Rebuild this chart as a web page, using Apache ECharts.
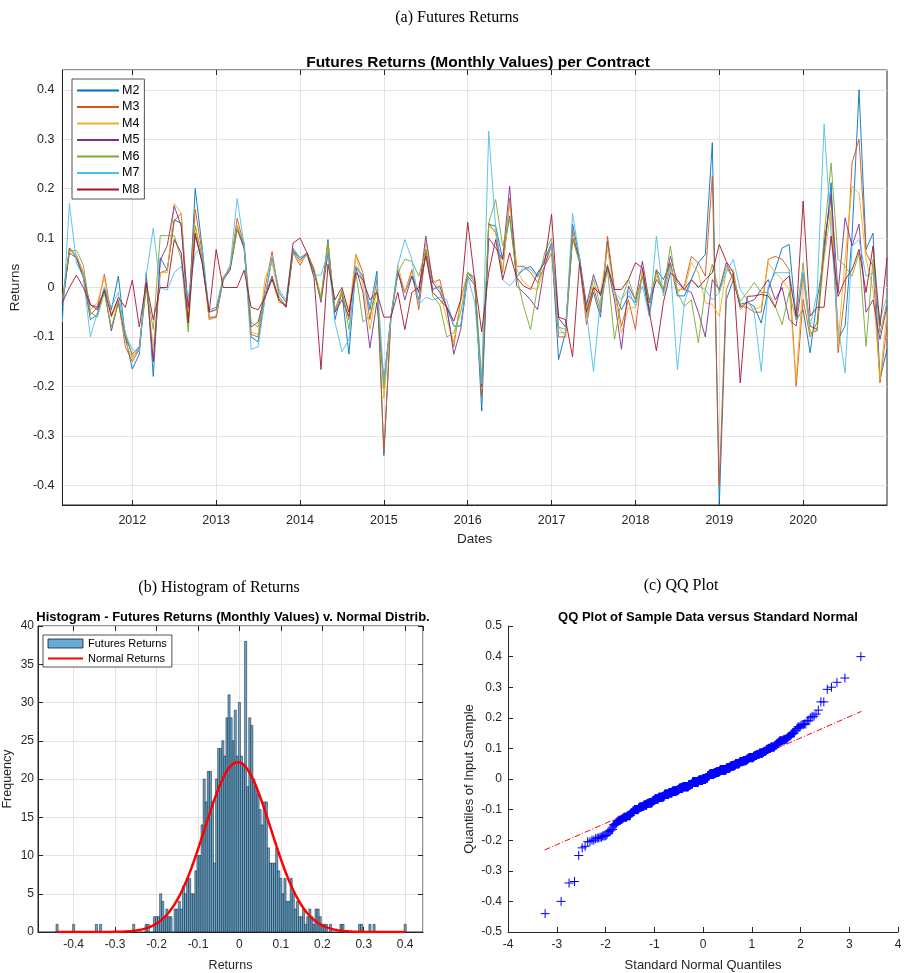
<!DOCTYPE html>
<html>
<head>
<meta charset="utf-8">
<script src="https://cdn.jsdelivr.net/npm/echarts@6/dist/echarts.min.js"></script>
<style>
html, body { margin: 0; padding: 0; background: #fff; }
#chart { width: 905px; height: 973px; }
</style>
</head>
<body>
<div id="chart"></div>
<script>
// monthly returns, month-end Feb 2011 .. Dec 2020 (119 months)
var startYear = 2011, startMonth = 2, monthCount = 119;

var m2 = [
	-0.04, 0.08, 0.06, 0.02, -0.065, -0.055, 0.0, -0.045, 0.023, -0.10,
	-0.165, -0.135, 0.03, -0.18, 0.06, 0.035, 0.137, 0.13, -0.072, 0.2,
	0.08, -0.06, -0.06, 0.015, 0.04, 0.125, 0.08, -0.1, -0.11, -0.02,
	0.06, -0.01, -0.03, 0.077, 0.06, 0.065, 0.03, -0.025, 0.097, -0.065,
	-0.01, -0.135, 0.043, 0.023, -0.045, 0.033, -0.34, -0.06, 0.03, -0.01,
	0.023, -0.025, 0.07, -0.004, 0.003, -0.04, -0.078, -0.078, 0.03, 0.02,
	-0.25, 0.128, 0.124, 0.057, 0.145, 0.023, 0.036, 0.043, 0.023, 0.057,
	0.09, -0.146, -0.09, 0.128, 0.06, -0.06, -0.01, -0.06, 0.094, -0.01,
	-0.045, -0.017, -0.03, 0.023, -0.058, 0.036, 0.016, 0.05, -0.017, -0.017,
	0.016, 0.05, 0.067, 0.293, -0.44, -0.025, 0.016, -0.034, -0.03, -0.038,
	-0.072, -0.004, 0.036, 0.08, 0.087, -0.065, -0.045, -0.132, -0.025, 0.064,
	0.212, -0.105, -0.078, 0.104, 0.40, 0.077, 0.11, -0.186, -0.125
];
var m3 = [
	-0.03, 0.08, 0.065, 0.03, -0.055, -0.04, 0.027, -0.055, -0.025, -0.12,
	-0.15, -0.125, 0.02, -0.15, 0.03, 0.035, 0.135, 0.15, -0.06, 0.158,
	0.07, -0.065, -0.06, 0.02, 0.04, 0.14, 0.085, -0.095, -0.1, 0.0,
	0.073, -0.018, -0.038, 0.07, 0.045, 0.07, 0.035, -0.02, 0.085, -0.05,
	-0.01, -0.065, 0.067, 0.03, -0.065, 0.016, -0.335, -0.065, 0.03, -0.01,
	0.036, -0.045, 0.077, 0.01, 0.016, -0.045, -0.12, -0.025, 0.03, 0.01,
	-0.22, 0.13, 0.11, 0.03, 0.18, 0.043, 0.043, 0.03, 0.01, 0.043,
	0.07, -0.1, -0.1, 0.115, 0.05, -0.075, 0.0, -0.05, 0.104, -0.004,
	-0.078, -0.025, -0.085, 0.036, -0.045, 0.036, -0.01, 0.05, -0.01, 0.003,
	0.063, 0.05, 0.023, 0.225, -0.40, -0.004, 0.03, -0.038, -0.04, -0.05,
	-0.05, 0.057, 0.063, 0.057, 0.036, -0.2, -0.024, -0.1, -0.07, 0.09,
	0.178, -0.132, -0.01, 0.252, 0.30, 0.07, 0.043, -0.193, -0.078
];
var m4 = [
	-0.03, 0.075, 0.065, 0.025, -0.045, -0.03, 0.02, -0.06, -0.03, -0.11,
	-0.145, -0.12, 0.0, -0.12, 0.03, 0.03, 0.17, 0.15, -0.05, 0.125,
	0.06, -0.065, -0.055, 0.018, 0.045, 0.125, 0.09, -0.09, -0.095, 0.02,
	0.05, -0.018, -0.04, 0.07, 0.05, 0.07, 0.04, -0.02, 0.085, -0.045,
	-0.01, -0.05, 0.067, 0.003, -0.085, -0.004, -0.225, -0.06, 0.045, -0.01,
	0.03, -0.01, 0.09, 0.016, -0.004, -0.065, -0.11, -0.025, 0.03, 0.01,
	-0.205, 0.124, 0.115, 0.035, 0.17, 0.037, 0.01, 0.0, -0.004, 0.043,
	0.084, -0.08, -0.1, 0.1, 0.05, -0.06, 0.003, -0.01, 0.077, -0.01,
	-0.092, -0.041, -0.041, 0.03, -0.025, 0.023, -0.004, 0.043, -0.004, -0.004,
	0.05, 0.03, -0.031, -0.034, -0.058, 0.036, 0.036, -0.045, -0.03, -0.045,
	-0.038, 0.05, 0.03, 0.016, -0.004, -0.186, 0.016, -0.092, -0.085, 0.057,
	0.158, -0.112, 0.057, 0.205, 0.19, 0.057, -0.004, -0.186, -0.05
];
var m5 = [
	-0.03, 0.07, 0.06, 0.02, -0.035, -0.04, -0.005, -0.088, -0.03, -0.10,
	-0.135, -0.12, 0.01, -0.15, 0.055, 0.085, 0.165, 0.124, -0.04, 0.105,
	0.05, -0.05, -0.045, 0.015, 0.035, 0.117, 0.08, -0.08, -0.07, -0.015,
	0.023, -0.025, -0.04, 0.073, 0.055, 0.07, 0.035, -0.03, 0.07, -0.05,
	-0.025, -0.058, 0.04, -0.01, -0.122, -0.03, -0.19, -0.06, 0.035, -0.025,
	0.023, -0.01, 0.104, 0.01, -0.01, -0.04, -0.135, -0.085, 0.023, 0.005,
	-0.2, 0.1, 0.08, 0.057, 0.205, 0.003, -0.01, -0.025, -0.045, 0.043,
	0.09, -0.062, -0.08, 0.1, 0.06, -0.035, 0.026, -0.017, 0.043, -0.025,
	-0.125, 0.003, -0.025, 0.053, -0.031, 0.016, -0.004, 0.063, 0.01, -0.004,
	-0.01, -0.05, -0.1, 0.016, -0.004, 0.05, 0.016, -0.04, -0.03, -0.025,
	-0.004, 0.016, -0.025, 0.0, -0.065, -0.078, 0.03, -0.078, -0.085, 0.084,
	0.19, -0.01, 0.141, 0.084, 0.128, -0.05, -0.025, -0.105, -0.038
];
var m6 = [
	-0.02, 0.075, 0.075, 0.045, -0.05, -0.06, -0.01, -0.08, -0.03, -0.09,
	-0.14, -0.125, 0.0, -0.085, 0.105, 0.105, 0.105, 0.057, -0.09, 0.125,
	0.06, -0.045, -0.04, 0.02, 0.04, 0.117, 0.09, -0.07, -0.08, -0.02,
	0.017, -0.03, -0.035, 0.073, 0.06, 0.07, 0.035, -0.025, 0.094, -0.045,
	-0.005, -0.085, 0.03, -0.07, -0.058, -0.004, -0.205, -0.06, 0.03, 0.057,
	0.053, 0.023, 0.077, -0.018, -0.035, -0.1, -0.092, -0.05, 0.03, 0.015,
	-0.185, 0.13, 0.178, 0.084, 0.14, 0.023, -0.038, -0.085, 0.003, 0.07,
	0.1, -0.08, -0.085, 0.1, 0.05, -0.045, 0.016, -0.038, 0.036, -0.105,
	-0.025, 0.016, -0.025, 0.023, -0.025, 0.03, -0.01, 0.084, -0.01, -0.038,
	-0.025, -0.112, -0.004, 0.047, -0.01, 0.043, 0.016, -0.028, -0.01, 0.01,
	-0.01, -0.01, -0.038, -0.075, -0.01, -0.065, 0.05, -0.092, -0.088, 0.104,
	0.252, 0.057, 0.043, 0.023, 0.07, -0.119, 0.057, -0.092, -0.03
];
var m7 = [
	-0.07, 0.17, 0.05, 0.02, -0.10, -0.05, 0.0, -0.04, -0.01, -0.095,
	-0.125, -0.13, 0.025, 0.12, 0.0, -0.005, 0.03, 0.043, -0.02, 0.07,
	0.08, -0.05, -0.04, 0.012, 0.045, 0.18, 0.085, -0.125, -0.12, -0.02,
	0.06, -0.004, -0.025, 0.08, 0.06, 0.065, 0.025, 0.025, 0.07, -0.07,
	-0.13, -0.105, 0.043, 0.016, -0.038, 0.023, -0.19, -0.065, 0.045, 0.097,
	0.057, -0.034, -0.02, -0.025, -0.02, -0.025, -0.078, -0.078, 0.023, -0.03,
	-0.195, 0.316, 0.12, 0.016, 0.003, 0.02, 0.043, 0.036, 0.02, 0.057,
	0.087, -0.092, -0.09, 0.15, 0.06, -0.05, -0.17, -0.025, 0.047, -0.01,
	-0.025, -0.004, -0.038, 0.003, -0.058, 0.104, -0.017, 0.043, -0.166, -0.031,
	0.016, 0.003, -0.004, -0.025, -0.01, 0.03, 0.057, -0.004, -0.025, -0.05,
	-0.17, 0.003, 0.03, 0.03, 0.03, -0.05, 0.03, -0.078, -0.01, 0.33,
	0.11, -0.078, -0.173, 0.084, 0.097, 0.023, 0.03, -0.065, -0.018
];
var m8 = [
	-0.03, 0.0, 0.025, 0.0, -0.035, -0.045, -0.005, -0.058, -0.02, -0.04,
	0.015, -0.08, 0.01, -0.065, 0.0, 0.0, 0.097, 0.07, -0.072, 0.11,
	0.05, -0.05, 0.077, 0.0, 0.0, 0.0, 0.035, -0.04, -0.045, -0.02,
	0.017, -0.025, -0.038, 0.09, 0.1, 0.07, 0.02, -0.166, 0.047, -0.025,
	0.0, -0.05, 0.03, 0.016, -0.025, -0.01, -0.06, -0.06, -0.01, -0.085,
	-0.01, 0.0, 0.063, -0.01, -0.025, -0.04, -0.068, -0.025, 0.132, 0.015,
	-0.09, 0.03, 0.097, 0.016, 0.07, 0.02, 0.003, -0.004, 0.03, 0.05,
	0.148, -0.06, -0.065, -0.14, 0.05, -0.05, 0.0, -0.014, 0.043, -0.004,
	-0.004, 0.016, 0.05, 0.04, -0.05, -0.128, -0.03, 0.03, 0.016, -0.004,
	0.016, 0.0, 0.016, 0.03, 0.087, 0.053, 0.03, -0.193, -0.018, -0.017,
	-0.014, -0.017, -0.04, 0.01, 0.023, -0.058, 0.175, -0.058, -0.04, -0.04,
	0.104, -0.018, 0.016, 0.036, 0.077, -0.01, 0.084, -0.078, 0.06
];
var contractNames = ['M2', 'M3', 'M4', 'M5', 'M6', 'M7', 'M8'];
var contractColors = ['#0072BD', '#D95319', '#EDB120', '#7E2F8E', '#77AC30', '#4DBEEE', '#A2142F'];

// histogram: bins of 0.005, first bin centred on -0.44
var binStart = -0.4425, binWidth = 0.005;
var histCounts = [
	1, 0, 0, 0, 0, 0, 0, 0, 1, 0,
	0, 0, 0, 0, 0, 0, 0, 0, 0, 1,
	0, 1, 0, 0, 0, 0, 0, 0, 0, 0,
	0, 0, 0, 0, 0, 0, 0, 1, 0, 0,
	0, 0, 0, 1, 1, 0, 0, 2, 2, 2,
	5, 4, 2, 3, 2, 2, 0, 3, 3, 4,
	3, 6, 5, 7, 7, 5, 5, 8, 10, 10,
	14, 20, 17, 21, 21, 17, 9, 20, 24, 24,
	25, 23, 28, 31, 28, 25, 29, 23, 30, 23,
	22, 38, 19, 28, 27, 20, 19, 18, 16, 14,
	17, 17, 11, 9, 9, 9, 11, 8, 7, 5,
	7, 4, 4, 7, 5, 3, 4, 2, 2, 3,
	1, 2, 3, 2, 1, 3, 3, 2, 1, 1,
	1, 0, 1, 0, 0, 0, 0, 1, 1, 0,
	0, 0, 0, 0, 0, 0, 1, 1, 0, 0,
	0, 1, 0, 1, 0, 0, 0, 0, 0, 0,
	0, 0, 0, 0, 0, 0, 0, 0, 1
];
// fitted normal
var normMean = -0.004, normSd = 0.08, normPeak = 22.2;
var normRange = [-0.44, 0.40];

// qq reference line end points
var qqLineX = [-3.25, 3.25];
var qqLineY = [-0.232, 0.221];

var sans = 'Liberation Sans, Arial, Helvetica, sans-serif';
var serif = 'Liberation Serif, Times New Roman, serif';
var axisColor = '#262626';
var gridColor = '#e3e3e3';
var histFill = 'rgb(102,170,215)';

var months = [];
for (var i = 0; i < monthCount; i++) {
	var mm = startMonth - 1 + i;
	var y = startYear + Math.floor(mm / 12);
	var mo = (mm % 12) + 1;
	months.push(y + '-' + (mo < 10 ? '0' + mo : mo));
}
var isYearTick = function (index, value) {
	return value.slice(5) === '12' && index < months.length - 1;
};

var allSeries = [m2, m3, m4, m5, m6, m7, m8];

var histData = [];
histCounts.forEach(function (c, k) {
	if (c > 0) {
		histData.push([binStart + k * binWidth, binStart + (k + 1) * binWidth, c]);
	}
});

var normData = [];
for (var x = normRange[0]; x <= normRange[1] + 1e-9; x += 0.0025) {
	var z = (x - normMean) / normSd;
	normData.push([x, normPeak * Math.exp(-0.5 * z * z)]);
}

function normInv(p) {
	var a = [-3.969683028665376e+01, 2.209460984245205e+02, -2.759285104469687e+02, 1.383577518672690e+02, -3.066479806614716e+01, 2.506628277459239e+00];
	var b = [-5.447609879822406e+01, 1.615858368580409e+02, -1.556989798598866e+02, 6.680131188771972e+01, -1.328068155288572e+01];
	var c = [-7.784894002430293e-03, -3.223964580411365e-01, -2.400758277161838e+00, -2.549732539343734e+00, 4.374664141464968e+00, 2.938163982698783e+00];
	var d = [7.784695709041462e-03, 3.224671290700398e-01, 2.445134137142996e+00, 3.754408661907416e+00];
	var q, r;
	if (p < 0.02425) {
		q = Math.sqrt(-2 * Math.log(p));
		return (((((c[0] * q + c[1]) * q + c[2]) * q + c[3]) * q + c[4]) * q + c[5]) / ((((d[0] * q + d[1]) * q + d[2]) * q + d[3]) * q + 1);
	}
	if (p > 1 - 0.02425) {
		q = Math.sqrt(-2 * Math.log(1 - p));
		return -(((((c[0] * q + c[1]) * q + c[2]) * q + c[3]) * q + c[4]) * q + c[5]) / ((((d[0] * q + d[1]) * q + d[2]) * q + d[3]) * q + 1);
	}
	q = p - 0.5;
	r = q * q;
	return (((((a[0] * r + a[1]) * r + a[2]) * r + a[3]) * r + a[4]) * r + a[5]) * q / (((((b[0] * r + b[1]) * r + b[2]) * r + b[3]) * r + b[4]) * r + 1);
}

// qq points: pooled sample of all contracts, sorted
var pooled = [];
allSeries.forEach(function (s) { pooled = pooled.concat(s); });
pooled.sort(function (a, b) { return a - b; });
var qqData = pooled.map(function (v, i) {
	return [normInv((i + 0.5) / pooled.length), v];
});

function tickStyle() {
	return { inside: true, length: 5, lineStyle: { color: axisColor, width: 1 } };
}

var lineSeries = allSeries.map(function (s, i) {
	return {
		name: contractNames[i],
		type: 'line',
		xAxisIndex: 0,
		yAxisIndex: 0,
		data: s,
		symbol: 'none',
		showSymbol: false,
		lineStyle: { color: contractColors[i], width: 0.9 },
		itemStyle: { color: contractColors[i] },
		z: 2 + i * 0.01
	};
});

var chart = echarts.init(document.getElementById('chart'), null, { renderer: 'canvas' });
chart.setOption({
	animation: false,
	backgroundColor: '#fff',
	textStyle: { fontFamily: sans },
	title: [{
		text: '(a) Futures Returns', left: 452, top: 5, textAlign: 'center',
		textStyle: { fontFamily: serif, fontSize: 16, fontWeight: 'normal', color: '#000' }
	}, {
		text: 'Futures Returns (Monthly Values) per Contract', left: 473, top: 50, textAlign: 'center',
		textStyle: { fontFamily: sans, fontSize: 15.5, fontWeight: 'bold', color: '#000' }
	}, {
		text: '(b) Histogram of Returns', left: 214, top: 575, textAlign: 'center',
		textStyle: { fontFamily: serif, fontSize: 16, fontWeight: 'normal', color: '#000' }
	}, {
		text: '(c) QQ Plot', left: 676, top: 573, textAlign: 'center',
		textStyle: { fontFamily: serif, fontSize: 16, fontWeight: 'normal', color: '#000' }
	}, {
		text: 'Histogram - Futures Returns (Monthly Values) v. Normal Distrib.', left: 228, top: 606, textAlign: 'center',
		textStyle: { fontFamily: sans, fontSize: 13, fontWeight: 'bold', color: '#000' }
	}, {
		text: 'QQ Plot of Sample Data versus Standard Normal', left: 703, top: 606, textAlign: 'center',
		textStyle: { fontFamily: sans, fontSize: 13, fontWeight: 'bold', color: '#000' }
	}],
	legend: [{
		data: contractNames,
		orient: 'vertical',
		left: 72,
		top: 79,
		itemWidth: 42,
		itemHeight: 14,
		itemGap: 3.5,
		padding: [5, 5, 3, 4],
		selectedMode: false,
		backgroundColor: '#fff',
		borderColor: axisColor,
		borderWidth: 0.8,
		itemStyle: { opacity: 0 },
		textStyle: { fontFamily: sans, fontSize: 12.5, color: '#000', padding: [0, 0, 0, -2] }
	}, {
		data: [{
			name: 'Futures Returns', icon: 'rect',
			itemStyle: { color: histFill, borderColor: '#1a1a1a', borderWidth: 0.8 }
		}, {
			name: 'Normal Returns',
			itemStyle: { opacity: 0 }
		}],
		orient: 'vertical',
		left: 43,
		top: 635,
		itemWidth: 35,
		itemHeight: 9,
		itemGap: 4,
		padding: [3, 5, 3, 4],
		selectedMode: false,
		backgroundColor: '#fff',
		borderColor: axisColor,
		borderWidth: 0.8,
		textStyle: { fontFamily: sans, fontSize: 11, color: '#000' }
	}],
	grid: [
		{ left: 60, top: 70, width: 827, height: 435, show: true, borderColor: axisColor, borderWidth: 1 },
		{ left: 32, top: 626, width: 391, height: 307, show: true, borderColor: axisColor, borderWidth: 1 },
		{ left: 508, top: 626, width: 390, height: 307 }
	],
	xAxis: [{
		type: 'category', gridIndex: 0, data: months, boundaryGap: false,
		axisLine: { onZero: false, lineStyle: { color: axisColor } },
		axisTick: echarts.util.extend(tickStyle(), { interval: isYearTick }),
		axisLabel: {
			interval: isYearTick, color: axisColor, fontSize: 12.5, margin: 9,
			formatter: function (v) { return String(+v.slice(0, 4) + 1); }
		},
		splitLine: { show: true, interval: isYearTick, lineStyle: { color: gridColor } },
		name: 'Dates', nameLocation: 'middle', nameGap: 27,
		nameTextStyle: { color: axisColor, fontSize: 13.5 }
	}, {
		type: 'category', gridIndex: 0, data: months, boundaryGap: false, position: 'top',
		axisLine: { show: false, onZero: false },
		axisTick: echarts.util.extend(tickStyle(), { interval: isYearTick }),
		axisLabel: { show: false },
		splitLine: { show: false }
	}, {
		type: 'value', gridIndex: 1, min: -0.486, max: 0.443, minInterval: 0.1, maxInterval: 0.1,
		axisLine: { onZero: false, lineStyle: { color: axisColor } },
		axisTick: tickStyle(),
		axisLabel: { color: axisColor, fontSize: 12, margin: 7, showMinLabel: false, showMaxLabel: false },
		splitLine: { show: true, lineStyle: { color: gridColor } },
		name: 'Returns', nameLocation: 'middle', nameGap: 27,
		nameTextStyle: { color: axisColor, fontSize: 12.5 }
	}, {
		type: 'value', gridIndex: 1, min: -0.486, max: 0.443, minInterval: 0.1, maxInterval: 0.1, position: 'top',
		axisLine: { show: false, onZero: false },
		axisTick: tickStyle(),
		axisLabel: { show: false },
		splitLine: { show: false }
	}, {
		type: 'value', gridIndex: 2, min: -4, max: 4, interval: 1,
		axisLine: { onZero: false, lineStyle: { color: axisColor } },
		axisTick: tickStyle(),
		axisLabel: { color: axisColor, fontSize: 12, margin: 7 },
		splitLine: { show: false },
		name: 'Standard Normal Quantiles', nameLocation: 'middle', nameGap: 27,
		nameTextStyle: { color: axisColor, fontSize: 13 }
	}],
	yAxis: [{
		type: 'value', gridIndex: 0, min: -0.44, max: 0.44, minInterval: 0.1, maxInterval: 0.1,
		axisLine: { show: true, onZero: false, lineStyle: { color: axisColor } },
		axisTick: tickStyle(),
		axisLabel: { color: axisColor, fontSize: 12.5, margin: 8, showMinLabel: false, showMaxLabel: false },
		splitLine: { show: true, lineStyle: { color: gridColor } },
		name: 'Returns', nameLocation: 'middle', nameGap: 38,
		nameTextStyle: { color: axisColor, fontSize: 13.5 }
	}, {
		type: 'value', gridIndex: 0, min: -0.44, max: 0.44, minInterval: 0.1, maxInterval: 0.1, position: 'right',
		axisLine: { show: false, onZero: false },
		axisTick: tickStyle(),
		axisLabel: { show: false },
		splitLine: { show: false }
	}, {
		type: 'value', gridIndex: 1, min: 0, max: 40, interval: 5,
		axisLine: { show: true, onZero: false, lineStyle: { color: axisColor } },
		axisTick: tickStyle(),
		axisLabel: { color: axisColor, fontSize: 12, margin: 4 },
		splitLine: { show: true, lineStyle: { color: gridColor } },
		name: 'Frequency', nameLocation: 'middle', nameGap: 24,
		nameTextStyle: { color: axisColor, fontSize: 12.5 }
	}, {
		type: 'value', gridIndex: 1, min: 0, max: 40, interval: 5, position: 'right',
		axisLine: { show: false, onZero: false },
		axisTick: tickStyle(),
		axisLabel: { show: false },
		splitLine: { show: false }
	}, {
		type: 'value', gridIndex: 2, min: -0.5, max: 0.5, interval: 0.1,
		axisLine: { show: true, onZero: false, lineStyle: { color: axisColor } },
		axisTick: tickStyle(),
		axisLabel: { color: axisColor, fontSize: 12, margin: 6 },
		splitLine: { show: false },
		name: 'Quantiles of Input Sample', nameLocation: 'middle', nameGap: 32,
		nameTextStyle: { color: axisColor, fontSize: 13 }
	}],
	series: lineSeries.concat([{
		name: 'Futures Returns',
		type: 'custom',
		xAxisIndex: 2,
		yAxisIndex: 2,
		data: histData,
		encode: { x: [0, 1], y: 2 },
		itemStyle: { color: histFill },
		renderItem: function (params, api) {
			var p0 = api.coord([api.value(0), api.value(2)]);
			var p1 = api.coord([api.value(1), 0]);
			return {
				type: 'rect',
				shape: { x: p0[0], y: p0[1], width: p1[0] - p0[0], height: p1[1] - p0[1] },
				style: { fill: histFill, stroke: 'rgba(20,20,20,0.85)', lineWidth: 0.6 }
			};
		},
		z: 2
	}, {
		name: 'Normal Returns',
		type: 'line',
		xAxisIndex: 2,
		yAxisIndex: 2,
		data: normData,
		symbol: 'none',
		showSymbol: false,
		lineStyle: { color: '#ff0000', width: 2.5 },
		itemStyle: { color: '#ff0000' },
		z: 3
	}, {
		name: 'qq line',
		type: 'line',
		xAxisIndex: 4,
		yAxisIndex: 4,
		data: [[qqLineX[0], qqLineY[0]], [qqLineX[1], qqLineY[1]]],
		symbol: 'none',
		lineStyle: { color: '#ff0000', width: 1, type: [6, 2, 1, 2] },
		z: 2
	}, {
		name: 'qq',
		type: 'scatter',
		xAxisIndex: 4,
		yAxisIndex: 4,
		data: qqData,
		symbol: 'path://M5,0 L5,10 M0,5 L10,5',
		symbolSize: 9,
		itemStyle: { color: 'rgba(0,0,0,0)', borderColor: '#0000ff', borderWidth: 1, opacity: 1 },
		z: 3
	}])
});
</script>
</body>
</html>
